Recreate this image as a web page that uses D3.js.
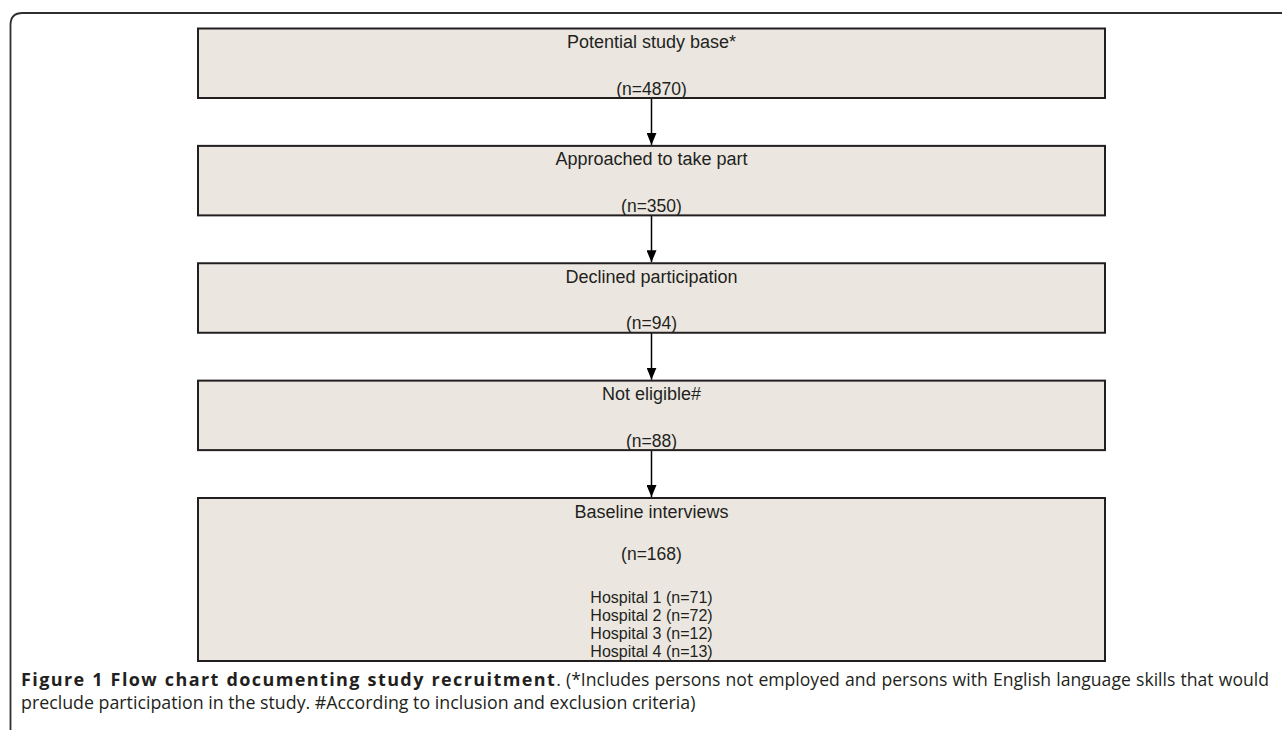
<!DOCTYPE html>
<html>
<head>
<meta charset="utf-8">
<script src="https://cdn.jsdelivr.net/npm/d3@7"></script>
<style>
  html, body { margin: 0; padding: 0; background: #fff; }
  svg { display: block; }
</style>
</head>
<body>
<svg id="chart" width="1282" height="730"></svg>
<script>
// ---- data ----
const stageLabels = ["Potential study base*", "Approached to take part", "Declined participation", "Not eligible#", "Baseline interviews"];
const stageCounts = [4870, 350, 94, 88, 168];
const hospitalLabels = ["Hospital 1", "Hospital 2", "Hospital 3", "Hospital 4"];
const hospitalCounts = [71, 72, 12, 13];
const captionBold = "Figure 1 Flow chart documenting study recruitment";
const captionLine1Rest = ". (*Includes persons not employed and persons with English language skills that would";
const captionLine2 = "preclude participation in the study. #According to inclusion and exclusion criteria)";

// ---- layout ----
const W = 1282, H = 730;
const svg = d3.select("#chart");
const boxLeft = 198, boxRight = 1105;
const cx = (boxLeft + boxRight) / 2;
const idx = d3.range(stageLabels.length);
const yTop = d3.scaleLinear().domain([0, stageLabels.length - 1]).range([28.5, 498]);
const boxH = i => i === stageLabels.length - 1 ? 163 : 69.5;

const FILL = "#ebe7e0", STROKE = "#231f20";
const FONT = "'Liberation Sans', Arial, sans-serif";

// outer frame (rounded top-left corner, clipped by the picture)
svg.append("path")
  .attr("d", `M10.5,${H} V25 Q10.5,13 22.5,13 H${W}`)
  .attr("fill", "none").attr("stroke", "#2e2e2e").attr("stroke-width", 1.8);

// arrows
const defs = svg.append("defs");
defs.append("marker").attr("id", "arr")
  .attr("viewBox", "0 0 12 10").attr("refX", 12).attr("refY", 5)
  .attr("markerWidth", 12).attr("markerHeight", 10)
  .attr("markerUnits", "userSpaceOnUse").attr("orient", "auto")
  .append("path").attr("d", "M0,0 L12,5 L0,10 Z").attr("fill", "#000");

svg.selectAll("line.arrow").data(idx.slice(0, -1)).join("line")
  .attr("class", "arrow")
  .attr("x1", cx).attr("x2", cx)
  .attr("y1", i => yTop(i) + boxH(i))
  .attr("y2", i => yTop(i + 1) - 1)
  .attr("stroke", "#000").attr("stroke-width", 1.5)
  .attr("marker-end", "url(#arr)");

// boxes
const g = svg.selectAll("g.stage").data(idx).join("g").attr("class", "stage");
g.append("rect")
  .attr("x", boxLeft).attr("y", i => yTop(i))
  .attr("width", boxRight - boxLeft).attr("height", i => boxH(i))
  .attr("fill", FILL).attr("stroke", STROKE).attr("stroke-width", 2);

g.append("text")
  .attr("x", cx).attr("y", i => yTop(i) + 19.5)
  .attr("text-anchor", "middle")
  .attr("font-family", FONT).attr("font-size", 18).attr("fill", "#231f20")
  .text(i => stageLabels[i]);

g.append("text")
  .attr("x", cx)
  .attr("y", i => i === stageLabels.length - 1 ? yTop(i) + 62 : yTop(i) + boxH(i) - 3.5)
  .attr("text-anchor", "middle")
  .attr("font-family", FONT).attr("font-size", 17.5).attr("fill", "#231f20")
  .text(i => `(n=${stageCounts[i]})`);

// hospital breakdown in last box
const last = stageLabels.length - 1;
svg.selectAll("text.hosp").data(hospitalLabels).join("text")
  .attr("class", "hosp")
  .attr("x", cx)
  .attr("y", (d, j) => yTop(last) + 104.5 + j * 18)
  .attr("text-anchor", "middle")
  .attr("font-family", FONT).attr("font-size", 16).attr("fill", "#231f20")
  .text((d, j) => `${d} (n=${hospitalCounts[j]})`);

// caption
const CAPFONT = "'Open Sans', 'Noto Sans', sans-serif";
const capX = 21, capRight = 1269;
const t1 = svg.append("text")
  .attr("x", capX).attr("y", 686)
  .attr("font-family", CAPFONT).attr("font-size", 17.6)
  .attr("fill", "#231f20");
t1.append("tspan").attr("font-weight", "bold").attr("font-size", 18)
  .attr("letter-spacing", 1.4).text(captionBold);
t1.append("tspan").text(captionLine1Rest);
const natural = t1.node().getComputedTextLength();
const spaces = (captionBold + captionLine1Rest).split(" ").length - 1;
const ws = (capRight - capX - natural) / spaces;
t1.attr("word-spacing", ws);

svg.append("text")
  .attr("x", capX).attr("y", 709)
  .attr("font-family", CAPFONT).attr("font-size", 17.8)
  .attr("fill", "#231f20")
  .text(captionLine2);
</script>
</body>
</html>
